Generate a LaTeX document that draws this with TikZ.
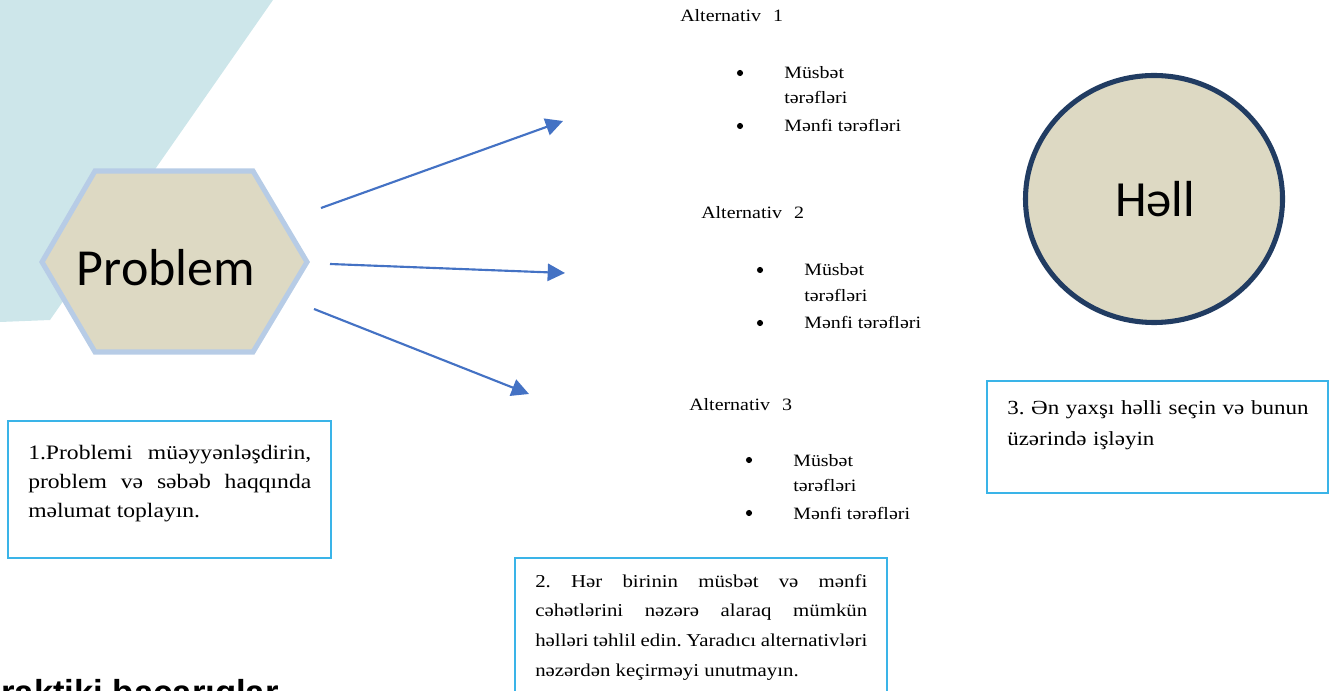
\documentclass[tikz,border=0pt]{standalone}
\usepackage{fontspec}
\setmainfont{Liberation Serif}[FakeStretch=1.15]
\newfontfamily\shapefont{Carlito}
\newfontfamily\headfont{Liberation Sans}
\usetikzlibrary{arrows.meta,shapes.geometric}
\frenchspacing

\definecolor{tealbg}{HTML}{CDE6EA}
\definecolor{tanfill}{HTML}{DDD9C3}
\definecolor{hexedge}{HTML}{B7CCE6}
\definecolor{navyedge}{HTML}{213C62}
\definecolor{arrowblue}{HTML}{4472C4}
\definecolor{boxedge}{HTML}{3AB4E8}

\begin{document}
\begin{tikzpicture}[x=0.75pt,y=-0.75pt,
  flow/.style={draw=arrowblue,line width=1.6pt,-{Triangle[length=13pt,width=13pt]}},
  notebox/.style={draw=boxedge,line width=1.1pt},
  alttitle/.style={anchor=base west,inner sep=0pt,font=\fontsize{13}{15}\selectfont},
  altitem/.style={anchor=base west,inner sep=0pt,font=\fontsize{13}{15}\selectfont},
  altdot/.style={circle,fill=black,inner sep=0pt,minimum size=4.6pt},
  notetext/.style={anchor=base west,inner sep=0pt,align=justify}
]
\clip (0,0) rectangle (1337,691);
\useasboundingbox (0,0) rectangle (1337,691);

% background band
\fill[tealbg] (0,0) -- (273,0) -- (50,320) -- (0,322) -- cycle;

% problem hexagon
\draw[fill=tanfill,draw=hexedge,line width=3.8pt,line join=miter]
  (95,171) -- (253,171) -- (307,262) -- (253,352) -- (95,352) -- (42,262) -- cycle;
\node[anchor=base,inner sep=0pt,font=\shapefont\fontsize{39}{41}\selectfont] (problem) at (166,286) {Problem};

% solution circle
\node[ellipse,draw=navyedge,fill=tanfill,line width=3.8pt,inner sep=0pt,
      minimum width=192.75pt,minimum height=185.25pt] (hellcircle) at (1154,199) {};
\node[anchor=base,inner sep=0pt,font=\shapefont\fontsize{38}{40}\selectfont] (hell) at (1155,217) {Həll};

% arrows towards the alternatives
\coordinate (s1) at (321,208); \coordinate (e1) at (563,121);
\coordinate (s2) at (330,264); \coordinate (e2) at (565,273);
\coordinate (s3) at (314,309); \coordinate (e3) at (529,394);
\draw[flow] (s1) -- (e1);
\draw[flow] (s2) -- (e2);
\draw[flow] (s3) -- (e3);

% alternative 1
\node[alttitle] (alt1) at (680,22) {Alternativ\hspace{9pt}1};
\node[altdot] (alt1d1) at (740,73) {};
\node[altitem] (alt1p) at (784,79) {Müsbət};
\node[altitem] (alt1p2) at (784,104) {tərəfləri};
\node[altdot] (alt1d2) at (740,126) {};
\node[altitem] (alt1n) at (784,132) {Mənfi tərəfləri};

% alternative 2
\node[alttitle] (alt2) at (701,219) {Alternativ\hspace{9pt}2};
\node[altdot] (alt2d1) at (760,270) {};
\node[altitem] (alt2p) at (804,276) {Müsbət};
\node[altitem] (alt2p2) at (804,301) {tərəfləri};
\node[altdot] (alt2d2) at (760,323) {};
\node[altitem] (alt2n) at (804,329) {Mənfi tərəfləri};

% alternative 3
\node[alttitle] (alt3) at (689,410) {Alternativ\hspace{9pt}3};
\node[altdot] (alt3d1) at (749,460) {};
\node[altitem] (alt3p) at (793,466) {Müsbət};
\node[altitem] (alt3p2) at (793,491) {tərəfləri};
\node[altdot] (alt3d2) at (749,513) {};
\node[altitem] (alt3n) at (793,519) {Mənfi tərəfləri};

% step boxes
\draw[notebox] (8,421) rectangle (331,558);
\node[notetext,text width=212.25pt,font=\fontsize{15.4}{22.1}\selectfont] (note1) at (28,459)
  {1.Problemi müəyyənləşdirin,\linebreak problem və səbəb haqqında\linebreak məlumat toplayın.};

\draw[notebox] (515,558) rectangle (887,700);
\node[notetext,text width=249pt,font=\fontsize{13.6}{22.3}\selectfont] (note2) at (535,587)
  {2. Hər birinin müsbət və mənfi\linebreak cəhətlərini nəzərə alaraq mümkün\linebreak həlləri təhlil edin. Yaradıcı alternativləri\linebreak nəzərdən keçirməyi unutmayın.};

\draw[notebox] (987,381) rectangle (1328,493);
\node[notetext,align=left,text width=235pt,font=\fontsize{15}{23.25}\selectfont] (note3) at (1007,414)
  {3. Ən yaxşı həlli seçin və bunun\\ üzərində işləyin};

% section heading running off the page
\node[anchor=base west,inner sep=0pt,font=\headfont\bfseries\fontsize{26}{28}\selectfont] (heading) at (1,704)
  {\llap{P}raktiki bacarıqlar};
\end{tikzpicture}
\end{document}
